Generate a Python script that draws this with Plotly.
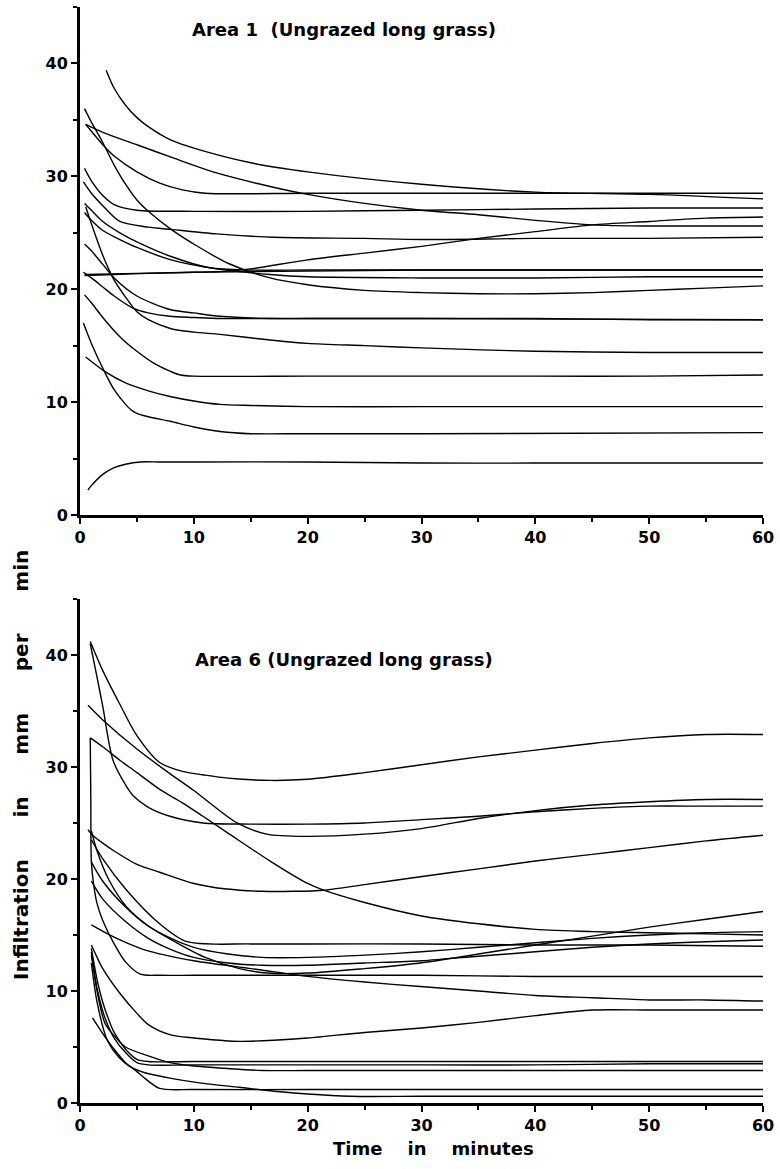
import plotly.graph_objects as go

# ---------------- Area 1 (Ungrazed long grass) ----------------
a1_c01_t = [2.3, 3, 4, 5, 6, 8, 10, 15, 20, 30, 40, 50, 60]
a1_c01_v = [39.4, 37.8, 36.3, 35.2, 34.4, 33.2, 32.5, 31.2, 30.4, 29.3, 28.6, 28.4, 28.0]
a1_c02_t = [0.5, 1, 2, 3, 5, 7, 9, 11, 20, 30, 40, 50, 60]
a1_c02_v = [34.6, 34.0, 32.8, 31.8, 30.4, 29.4, 28.8, 28.5, 28.5, 28.5, 28.5, 28.5, 28.5]
a1_c03_t = [0.5, 2, 5, 8, 12, 16.7, 20, 25, 30, 35, 40, 45, 50, 60]
a1_c03_v = [34.6, 33.9, 32.8, 31.7, 30.3, 29.1, 28.4, 27.6, 27.0, 26.6, 26.1, 25.7, 25.6, 25.6]
a1_c04_t = [0.4, 1, 2, 3, 5, 10, 20, 30, 40, 50, 60]
a1_c04_v = [30.7, 29.6, 28.3, 27.5, 27.0, 26.9, 26.9, 27.0, 27.1, 27.2, 27.2]
a1_c05_t = [0.3, 1, 2, 3.5, 6, 8, 12, 17, 25, 30, 40, 50, 60]
a1_c05_v = [29.5, 28.5, 27.4, 26.0, 25.5, 25.3, 24.9, 24.6, 24.5, 24.4, 24.5, 24.5, 24.6]
a1_c06_t = [0.4, 3, 6, 10, 13, 15, 20, 25, 30, 35, 40, 45, 50, 55, 60]
a1_c06_v = [21.2, 21.3, 21.4, 21.5, 21.6, 21.8, 22.6, 23.2, 23.8, 24.5, 25.1, 25.7, 26.0, 26.3, 26.4]
a1_c07_t = [0.4, 5, 10, 20, 30, 40, 50, 60]
a1_c07_v = [21.3, 21.4, 21.5, 21.6, 21.7, 21.7, 21.7, 21.7]
a1_c08_t = [0.4, 1, 2, 3, 4, 5, 6, 8, 10, 13, 16.7, 20, 25, 30, 35, 40, 45, 50, 55, 60]
a1_c08_v = [36.0, 34.8, 33.0, 31.0, 29.3, 27.9, 26.9, 25.3, 24.0, 22.3, 21.0, 20.4, 19.9, 19.7, 19.6, 19.6, 19.7, 19.9, 20.1, 20.3]
a1_c09_t = [0.4, 1, 2, 3.5, 5, 8, 11.4, 15, 20, 30, 40, 50, 60]
a1_c09_v = [27.6, 27.0, 26.0, 25.0, 24.2, 22.9, 21.9, 21.7, 21.7, 21.7, 21.7, 21.7, 21.7]
a1_c10_t = [0.4, 1, 2, 3.5, 5, 8, 12, 16.7, 20, 30, 40, 50, 60]
a1_c10_v = [26.8, 26.1, 25.2, 24.4, 23.7, 22.6, 21.8, 21.3, 21.1, 21.0, 21.0, 21.1, 21.1]
a1_c11_t = [0.3, 1, 2, 3, 4.7, 6, 7.9, 10, 12.3, 15, 20, 30, 40, 50, 60]
a1_c11_v = [21.5, 21.0, 20.2, 19.4, 18.3, 17.9, 17.6, 17.5, 17.4, 17.4, 17.4, 17.4, 17.4, 17.3, 17.3]
a1_c12_t = [0.4, 1, 2, 3, 5, 7.9, 10, 12.3, 16.7, 20, 30, 60]
a1_c12_v = [24.0, 23.4, 22.2, 21.0, 19.4, 18.2, 17.9, 17.6, 17.4, 17.4, 17.4, 17.3]
a1_c13_t = [0.5, 1, 2, 2.6, 3, 4, 5, 6, 8, 10, 12.3, 16.7, 20, 25, 30, 40, 50, 60]
a1_c13_v = [27.3, 25.8, 23.0, 21.6, 20.8, 19.3, 18.0, 17.3, 16.5, 16.2, 16.0, 15.5, 15.2, 15.0, 14.8, 14.5, 14.4, 14.4]
a1_c14_t = [0.4, 1, 2, 3.5, 5, 6.4, 8, 8.8, 10, 20, 30, 40, 50, 60]
a1_c14_v = [19.5, 18.8, 17.5, 15.8, 14.5, 13.5, 12.7, 12.4, 12.3, 12.3, 12.3, 12.3, 12.3, 12.4]
a1_c15_t = [0.5, 1, 2.2, 4, 6, 7.9, 10, 12.3, 15, 20, 30, 40, 60]
a1_c15_v = [14.0, 13.6, 12.7, 11.7, 11.0, 10.5, 10.1, 9.8, 9.7, 9.6, 9.6, 9.6, 9.6]
a1_c16_t = [0.3, 1, 2.2, 3, 4, 4.5, 5, 6, 7.9, 10, 12.3, 15, 20, 30, 60]
a1_c16_v = [17.0, 15.2, 12.6, 11.1, 9.8, 9.3, 9.0, 8.7, 8.3, 7.8, 7.4, 7.2, 7.2, 7.2, 7.3]
a1_c17_t = [0.7, 1, 2, 3, 4, 5.3, 7, 10, 20, 30, 40, 50, 60]
a1_c17_v = [2.2, 2.6, 3.6, 4.2, 4.5, 4.7, 4.7, 4.7, 4.7, 4.6, 4.6, 4.6, 4.6]

# ---------------- Area 6 (Ungrazed long grass) ----------------
a6_c01_t = [0.9, 2, 3.5, 5, 7, 9, 10.8, 13, 16.7, 20, 25, 30, 35, 40, 45, 50, 55, 60]
a6_c01_v = [41.2, 38.6, 35.6, 32.8, 30.4, 29.6, 29.3, 29.0, 28.8, 28.9, 29.5, 30.2, 30.9, 31.5, 32.1, 32.6, 32.9, 32.9]
a6_c02_t = [0.9, 1.5, 2, 2.9, 4, 4.7, 6, 7.9, 10.8, 15, 20, 25, 30, 35, 40, 45, 50, 55, 60]
a6_c02_v = [41.0, 38.0, 35.4, 30.6, 28.4, 27.4, 26.4, 25.6, 25.0, 24.9, 24.9, 25.0, 25.3, 25.6, 26.0, 26.3, 26.5, 26.5, 26.5]
a6_c03_t = [0.7, 2, 5, 7.9, 10, 13.8, 16.4, 20, 25, 30, 35, 40, 45, 50, 55, 60]
a6_c03_v = [35.5, 34.2, 31.6, 29.4, 27.9, 25.0, 24.0, 23.8, 24.0, 24.5, 25.4, 26.1, 26.6, 26.9, 27.1, 27.1]
a6_c04_t = [0.9, 2, 3.5, 5, 7, 9, 10.8, 13, 16.7, 20, 21.4, 25, 30, 35, 40, 45, 50, 55, 60]
a6_c04_v = [32.6, 31.8, 30.6, 29.5, 28.0, 26.8, 25.6, 24.1, 21.6, 19.6, 19.0, 17.9, 16.7, 16.0, 15.5, 15.3, 15.2, 15.1, 15.0]
a6_c05_t = [0.9, 0.95, 1.0, 1.2, 1.5, 2, 3, 4, 5.3, 7, 10, 20, 30, 40, 50, 60]
a6_c05_v = [32.6, 27.0, 21.5, 19.5, 17.8, 16.3, 14.2, 12.6, 11.5, 11.4, 11.4, 11.4, 11.4, 11.3, 11.3, 11.3]
a6_c06_t = [1, 3, 5.6, 10, 15.8, 20, 25, 29.9, 35, 40, 45, 50, 55, 60]
a6_c06_v = [15.9, 14.8, 13.7, 12.7, 11.9, 11.3, 10.8, 10.4, 10.0, 9.6, 9.4, 9.2, 9.2, 9.1]
a6_c07_t = [1.0, 1.5, 2.5, 4.1, 6, 8.5, 11, 14, 16.5, 20, 25, 29.9, 35, 40, 45, 50, 55, 60]
a6_c07_v = [24.3, 22.5, 20.0, 17.5, 15.8, 14.3, 13.0, 12.0, 11.6, 11.6, 12.0, 12.5, 13.3, 14.1, 14.9, 15.7, 16.4, 17.1]
a6_c08_t = [1, 2, 4.1, 7, 9.4, 15, 20, 30, 40, 50, 60]
a6_c08_v = [23.5, 21.8, 19.0, 16.0, 14.4, 14.2, 14.2, 14.2, 14.1, 14.1, 14.0]
a6_c09_t = [1, 2, 4, 6, 8, 10, 13, 16, 20, 25, 30, 35, 40, 45, 50, 55, 60]
a6_c09_v = [21.5, 19.8, 17.5, 15.8, 14.7, 13.9, 13.3, 13.0, 13.0, 13.2, 13.5, 13.9, 14.3, 14.7, 15.0, 15.2, 15.3]
a6_c10_t = [1, 2, 4, 6, 8, 10, 13, 16, 20, 25, 30, 35, 40, 45, 50, 55, 60]
a6_c10_v = [19.8, 18.2, 16.2, 14.7, 13.7, 13.0, 12.5, 12.3, 12.3, 12.5, 12.7, 13.1, 13.5, 13.9, 14.2, 14.4, 14.55]
a6_c11_t = [1, 1.5, 2, 3.5, 5, 6, 7.9, 10, 12.3, 14, 17, 20, 25, 30, 35, 40, 45, 50, 55, 60]
a6_c11_v = [14.1, 13.0, 12.0, 9.8, 8.0, 7.0, 6.1, 5.8, 5.6, 5.5, 5.6, 5.8, 6.3, 6.7, 7.2, 7.8, 8.3, 8.3, 8.3, 8.3]
a6_c12_t = [1.1, 2, 3, 4, 5, 5.7, 7, 10, 20, 30, 40, 50, 60]
a6_c12_v = [7.6, 6.2, 4.8, 3.6, 2.8, 2.2, 1.3, 1.2, 1.2, 1.2, 1.2, 1.2, 1.2]
a6_c13_t = [1, 1.5, 2.4, 3.5, 4.5, 5.7, 8, 10.5, 14, 17.6, 20, 23.7, 30, 40, 50, 60]
a6_c13_v = [12.5, 9.0, 5.6, 4.0, 3.2, 2.7, 2.2, 1.8, 1.4, 1.0, 0.8, 0.6, 0.6, 0.6, 0.6, 0.6]
a6_c14_t = [1, 1.5, 2.2, 3, 4, 6, 7.9, 10, 12.7, 16, 20, 30, 40, 50, 60]
a6_c14_v = [13.5, 10.0, 7.1, 6.0, 5.0, 4.2, 3.6, 3.3, 3.1, 2.9, 2.9, 2.9, 2.9, 2.9, 2.9]
a6_c15_t = [1, 1.5, 2, 2.5, 3, 4, 5, 6, 10, 20, 30, 40, 50, 60]
a6_c15_v = [13.8, 11.0, 9.0, 7.5, 6.3, 4.8, 3.9, 3.7, 3.7, 3.7, 3.7, 3.7, 3.7, 3.7]
a6_c16_t = [1, 1.5, 2, 2.5, 3, 4, 5, 6, 10, 20, 30, 40, 50, 60]
a6_c16_v = [13.2, 10.2, 8.2, 6.8, 5.8, 4.5, 3.6, 3.4, 3.4, 3.4, 3.4, 3.4, 3.5, 3.5]
a6_c17_t = [0.7, 1, 2, 3, 5, 7, 10, 12.9, 16, 18.7, 21.4, 25, 29.9, 35, 40, 45, 50, 55, 60]
a6_c17_v = [24.4, 24.0, 23.2, 22.5, 21.3, 20.6, 19.6, 19.1, 18.9, 18.9, 19.0, 19.5, 20.2, 20.9, 21.6, 22.2, 22.8, 23.4, 23.9]

x_tick_vals = [0, 10, 20, 30, 40, 50, 60]
y_tick_vals = [0, 10, 20, 30, 40]
title_top = "Area 1\u00a0 (Ungrazed long grass)"
title_bottom = "Area 6 (Ungrazed long grass)"
GAP = "\u00a0" * 6
y_title = "Infiltration" + GAP + "in" + GAP + "mm" + GAP + "per" + GAP + "min"
GAPX = "\u00a0" * 4
x_title = "Time" + GAPX + "in" + GAPX + "minutes"

area1 = [(a1_c01_t, a1_c01_v), (a1_c02_t, a1_c02_v), (a1_c03_t, a1_c03_v), (a1_c04_t, a1_c04_v),
         (a1_c05_t, a1_c05_v), (a1_c06_t, a1_c06_v), (a1_c07_t, a1_c07_v), (a1_c08_t, a1_c08_v),
         (a1_c09_t, a1_c09_v), (a1_c10_t, a1_c10_v), (a1_c11_t, a1_c11_v), (a1_c12_t, a1_c12_v),
         (a1_c13_t, a1_c13_v), (a1_c14_t, a1_c14_v), (a1_c15_t, a1_c15_v), (a1_c16_t, a1_c16_v),
         (a1_c17_t, a1_c17_v)]
area6 = [(a6_c01_t, a6_c01_v), (a6_c02_t, a6_c02_v), (a6_c03_t, a6_c03_v), (a6_c04_t, a6_c04_v),
         (a6_c05_t, a6_c05_v), (a6_c06_t, a6_c06_v), (a6_c07_t, a6_c07_v), (a6_c08_t, a6_c08_v),
         (a6_c09_t, a6_c09_v), (a6_c10_t, a6_c10_v), (a6_c11_t, a6_c11_v), (a6_c12_t, a6_c12_v),
         (a6_c13_t, a6_c13_v), (a6_c14_t, a6_c14_v), (a6_c15_t, a6_c15_v), (a6_c16_t, a6_c16_v),
         (a6_c17_t, a6_c17_v)]

fig = go.Figure()
line_style = dict(color="black", width=1.4, shape="spline", smoothing=0.8)
for t, v in area1:
    fig.add_trace(go.Scatter(x=t, y=v, mode="lines", line=line_style, xaxis="x", yaxis="y",
                             showlegend=False, hoverinfo="skip"))
for t, v in area6:
    fig.add_trace(go.Scatter(x=t, y=v, mode="lines", line=line_style, xaxis="x2", yaxis="y2",
                             showlegend=False, hoverinfo="skip"))

FONT = "'DejaVu Sans', 'Liberation Sans', sans-serif"
tickfont = dict(family=FONT, size=16, color="black", weight="bold")

def xax(anchor):
    return dict(domain=[0, 1], anchor=anchor, range=[0, 60], tickvals=x_tick_vals,
                ticks="outside", ticklen=6, tickwidth=2, tickcolor="black",
                showline=True, linewidth=3, linecolor="black", showgrid=False, zeroline=False,
                tickfont=tickfont,
                minor=dict(dtick=5, tick0=0, ticks="outside", ticklen=4, tickwidth=1.5,
                           tickcolor="black", showgrid=False))

def yax(anchor, domain):
    return dict(domain=domain, anchor=anchor, range=[0, 45], tickvals=y_tick_vals,
                ticks="outside", ticklen=6, tickwidth=2, tickcolor="black",
                showline=True, linewidth=3, linecolor="black", showgrid=False, zeroline=False,
                tickfont=tickfont,
                minor=dict(dtick=5, tick0=0, ticks="outside", ticklen=4, tickwidth=1.5,
                           tickcolor="black", showgrid=False))

PLOT_W = 780 - 80 - 17
PLOT_H = 1169 - 7 - 66

fig.update_layout(
    width=780, height=1169,
    margin=dict(l=80, r=17, t=7, b=66),
    paper_bgcolor="white", plot_bgcolor="white",
    xaxis=xax("y"), yaxis=yax("x", [0.5365, 1.0]),
    xaxis2=xax("y2"), yaxis2=yax("x2", [0.0, 0.4599]),
    annotations=[
        dict(text=title_top, x=9.7, y=43.0, xref="x", yref="y", xanchor="left", yanchor="middle",
             showarrow=False, font=dict(family=FONT, size=18, color="black", weight="bold")),
        dict(text=title_bottom, x=9.9, y=39.6, xref="x2", yref="y2", xanchor="left", yanchor="middle",
             showarrow=False, font=dict(family=FONT, size=18, color="black", weight="bold")),
        dict(text=y_title, x=(21 - 80) / PLOT_W, y=(1103 - 765) / PLOT_H, xref="paper", yref="paper",
             xanchor="center", yanchor="middle", showarrow=False, textangle=-90,
             font=dict(family=FONT, size=20, color="black", weight="bold")),
        dict(text=x_title, x=(433 - 80) / PLOT_W, y=(1103 - 1148) / PLOT_H, xref="paper", yref="paper",
             xanchor="center", yanchor="middle", showarrow=False,
             font=dict(family=FONT, size=18, color="black", weight="bold")),
    ],
)

fig.write_html("out.html")
